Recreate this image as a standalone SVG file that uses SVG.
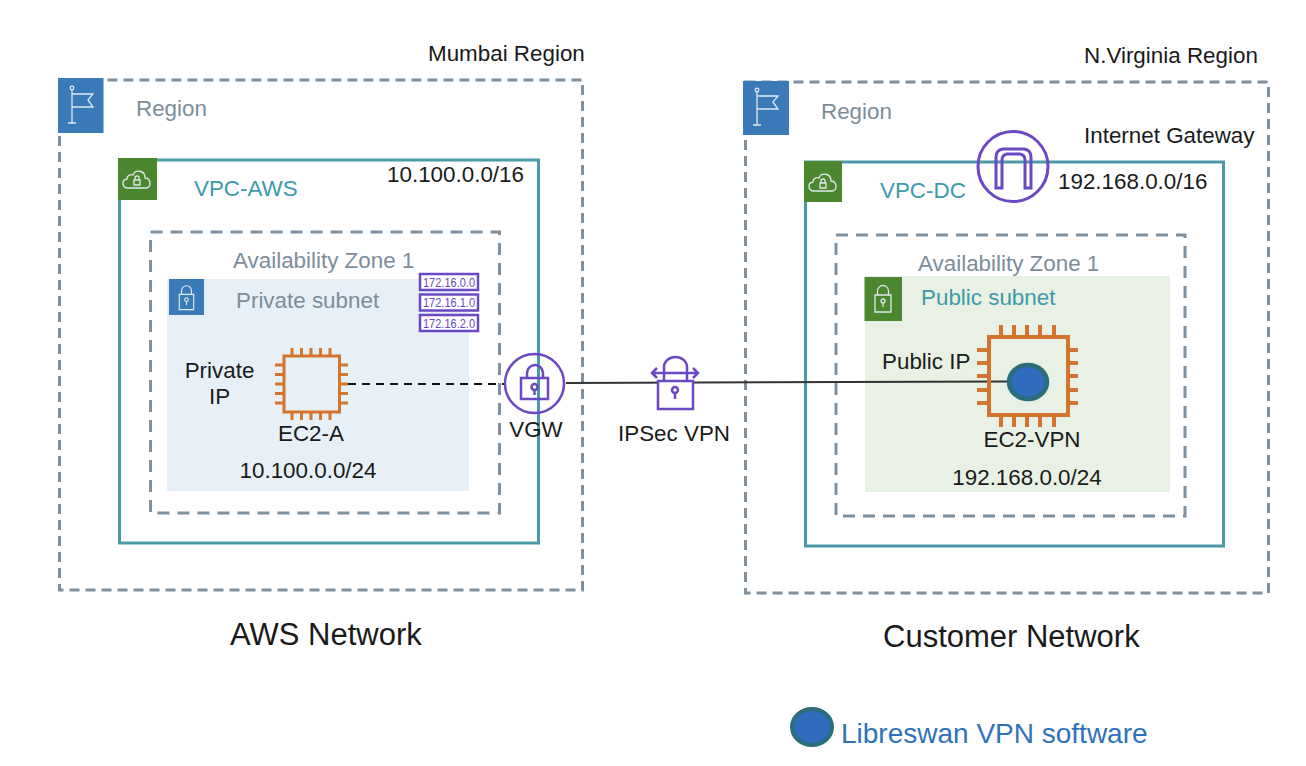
<svg xmlns="http://www.w3.org/2000/svg" width="1306" height="766" viewBox="0 0 1306 766">
<style>
text{font-family:"Liberation Sans",Arial,sans-serif;font-size:22.400px;fill:#1a1a1a}
.g{fill:#7d8d99}.t{fill:#3d9aa8}
.rg{fill:none;stroke:#7f919e;stroke-width:3;stroke-dasharray:10 6}
.az{fill:none;stroke:#7f919e;stroke-width:3;stroke-dasharray:12 8}
.vpc{fill:none;stroke:#4a9aa8;stroke-width:3}
.ic{fill:none;stroke:#dfe9ef;stroke-width:1.3}
.o{fill:none;stroke:#d4752f;stroke-width:3}
.o4{fill:none;stroke:#d4752f;stroke-width:4}
.p{fill:none;stroke:#6b48c4;stroke-width:2.500}
.p3{fill:none;stroke:#6b48c4;stroke-width:3}
.lk{fill:#fff;stroke:#6b48c4;stroke-width:2.500}
.ipb{fill:#fff;stroke:#6b48c4;stroke-width:2.500}
.ipt{font-size:12px;fill:#6b48c4}
.big{font-size:31px}
</style>
<defs>
<g id="flag"><path class="ic" d="M-10 -17V17M-14 17H-6M-10 -12H11L6 -6L11 1H-10"/><circle class="ic" cx="-10" cy="-18" r="1.800"/></g>
<g id="cloud"><path class="ic" d="M-9 9C-15 9 -16 1 -10 0C-10 -4 -6 -5 -4 -4C-2 -10 8 -9 8 -1C14 -1 15 9 9 9Z"/><path class="ic" d="M-3 1H3V6H-3ZM-2 1V-1A2 2 0 0 1 2 -1V1"/></g>
<g id="lock"><path class="ic" d="M-8 -3H8V14H-8ZM-5.500 -3V-7A5.500 5.500 0 0 1 5.500 -7V-3"/><circle class="ic" cx="0" cy="3" r="2"/><path class="ic" d="M0 5V9"/></g>
</defs>

<g id="region-left">
<rect class="rg" x="59.500" y="80" width="523" height="510"/>
<rect x="58" y="78" width="45.500" height="55" fill="#3a7ab8"/>
<use href="#flag" x="82" y="106"/>
<text class="g" x="136" y="116">Region</text>
<text x="428" y="61">Mumbai Region</text>
</g>

<g id="vpc-left">
<rect class="vpc" x="119.500" y="160" width="419" height="383"/>
<rect x="118" y="158" width="39" height="42" fill="#4a872e"/>
<use href="#cloud" x="137" y="179"/>
<text class="t" x="194" y="196">VPC-AWS</text>
<text x="387" y="182">10.100.0.0/16</text>
</g>

<g id="az-left">
<rect class="az" x="150.500" y="232" width="349" height="281"/>
<text class="g" x="233" y="268">Availability Zone 1</text>
</g>

<g id="subnet-left">
<rect x="167" y="279" width="302" height="212" fill="#e6f0f6"/>
<rect x="169" y="279" width="35" height="36" fill="#3a7ab8"/>
<use href="#lock" x="186.500" y="297" transform="translate(18.650 29.700) scale(.9)"/>
<text class="g" x="236" y="308">Private subnet</text>
<text x="219.500" y="378" text-anchor="middle">Private</text>
<text x="219.500" y="404" text-anchor="middle">IP</text>
<text x="311" y="441" text-anchor="middle">EC2-A</text>
<text x="308" y="478" text-anchor="middle">10.100.0.0/24</text>
</g>

<g id="route-table">
<rect class="ipb" x="420" y="274" width="58" height="16"/>
<rect class="ipb" x="420" y="294.500" width="58" height="16"/>
<rect class="ipb" x="420" y="315" width="58" height="16"/>
<text class="ipt" x="423" y="286.500" textLength="52" lengthAdjust="spacingAndGlyphs">172.16.0.0</text>
<text class="ipt" x="423" y="307" textLength="52" lengthAdjust="spacingAndGlyphs">172.16.1.0</text>
<text class="ipt" x="423" y="327.500" textLength="52" lengthAdjust="spacingAndGlyphs">172.16.2.0</text>
</g>

<g id="ec2-a">
<rect class="o" x="284" y="356" width="55.500" height="56"/>
<path class="o" d="M292 348v8M301.500 348v8M311 348v8M320.500 348v8M330 348v8M292 412v8M301.500 412v8M311 412v8M320.500 412v8M330 412v8M275 365h9M275 374.500h9M275 384h9M275 393.500h9M275 403h9M339 365h9M339 374.500h9M339 384h9M339 393.500h9M339 403h9"/>
</g>

<g id="region-right">
<rect class="rg" x="745.500" y="82" width="523" height="511"/>
<rect x="743" y="81" width="46" height="54" fill="#3a7ab8"/>
<use href="#flag" x="767" y="108"/>
<text class="g" x="821" y="119">Region</text>
<text x="1084" y="63">N.Virginia Region</text>
</g>

<g id="vpc-right">
<rect class="vpc" x="805.500" y="162" width="418" height="384"/>
<rect x="804" y="161" width="38" height="41" fill="#4a872e"/>
<use href="#cloud" x="823" y="182"/>
<text class="t" x="880" y="198">VPC-DC</text>
<text x="1058" y="189">192.168.0.0/16</text>
<text x="1084" y="143">Internet Gateway</text>
</g>

<g id="igw">
<circle class="p3" cx="1013" cy="166.500" r="35"/>
<path class="p3" d="M996 188V157Q996 150 1003 149H1024Q1031 150 1031 157V188H1025V160Q1025 155 1020 154H1007Q1002 155 1002 160V188Z"/>
</g>

<g id="az-right">
<rect class="az" x="836" y="235" width="349" height="281"/>
<text class="g" x="918" y="271">Availability Zone 1</text>
</g>

<g id="subnet-right">
<rect x="865" y="276" width="305" height="216" fill="#e9f1e5"/>
<rect x="864.500" y="277" width="37.500" height="44" fill="#4a872e"/>
<use href="#lock" x="883" y="298"/>
<text class="t" x="921" y="305">Public subnet</text>
<text x="882" y="369">Public IP</text>
<text x="1032" y="447" text-anchor="middle">EC2-VPN</text>
<text x="1027" y="485" text-anchor="middle">192.168.0.0/24</text>
</g>

<g id="connectors">
<path d="M348 384H504" fill="none" stroke="#111" stroke-width="2" stroke-dasharray="8 6"/>
<path d="M566 383L1008 381.500" fill="none" stroke="#333" stroke-width="2"/>
</g>

<g id="ec2-vpn">
<rect class="o4" x="989" y="337" width="79" height="78"/>
<path class="o4" d="M1001 325v12M1014 325v12M1027 325v12M1040 325v12M1054 325v12M1001 415v12M1014 415v12M1027 415v12M1040 415v12M1054 415v12M977 350h12M977 363h12M977 376h12M977 390h12M977 403h12M1068 350h10M1068 363h10M1068 376h10M1068 390h10M1068 403h10"/>
<ellipse cx="1028" cy="382" rx="19" ry="17" fill="#2f6cc0" stroke="#2b6d78" stroke-width="4.500"/>
</g>

<g id="vgw">
<circle class="p" cx="534.500" cy="383.500" r="29.500"/>
<path class="p" d="M521 378H548V399H521ZM527 378V373A8 8 0 0 1 543 373V378"/>
<circle class="p" cx="534.500" cy="387" r="3"/><path class="p" d="M534.500 390V395"/>
<text x="536" y="437" text-anchor="middle">VGW</text>
</g>

<g id="ipsec-vpn">
<path class="lk" d="M658 381H693V409H658Z"/>
<path class="p" d="M664 381V367A11.500 10 0 0 1 687 367V381M652 373H698M657 368L652 373L657 378M693 368L698 373L693 378"/>
<circle class="p" cx="675" cy="390" r="3"/><path class="p" d="M675 393V399"/>
<text x="674" y="441" text-anchor="middle">IPSec VPN</text>
</g>

<g id="labels">
<text class="big" x="230" y="645">AWS Network</text>
<text class="big" x="883" y="647">Customer Network</text>
</g>

<g id="legend">
<ellipse cx="812" cy="727" rx="20" ry="18" fill="#2f6cc0" stroke="#2b6d78" stroke-width="4"/>
<text x="841" y="743" style="font-size:28px;fill:#2f72ba">Libreswan VPN software</text>
</g>
</svg>
